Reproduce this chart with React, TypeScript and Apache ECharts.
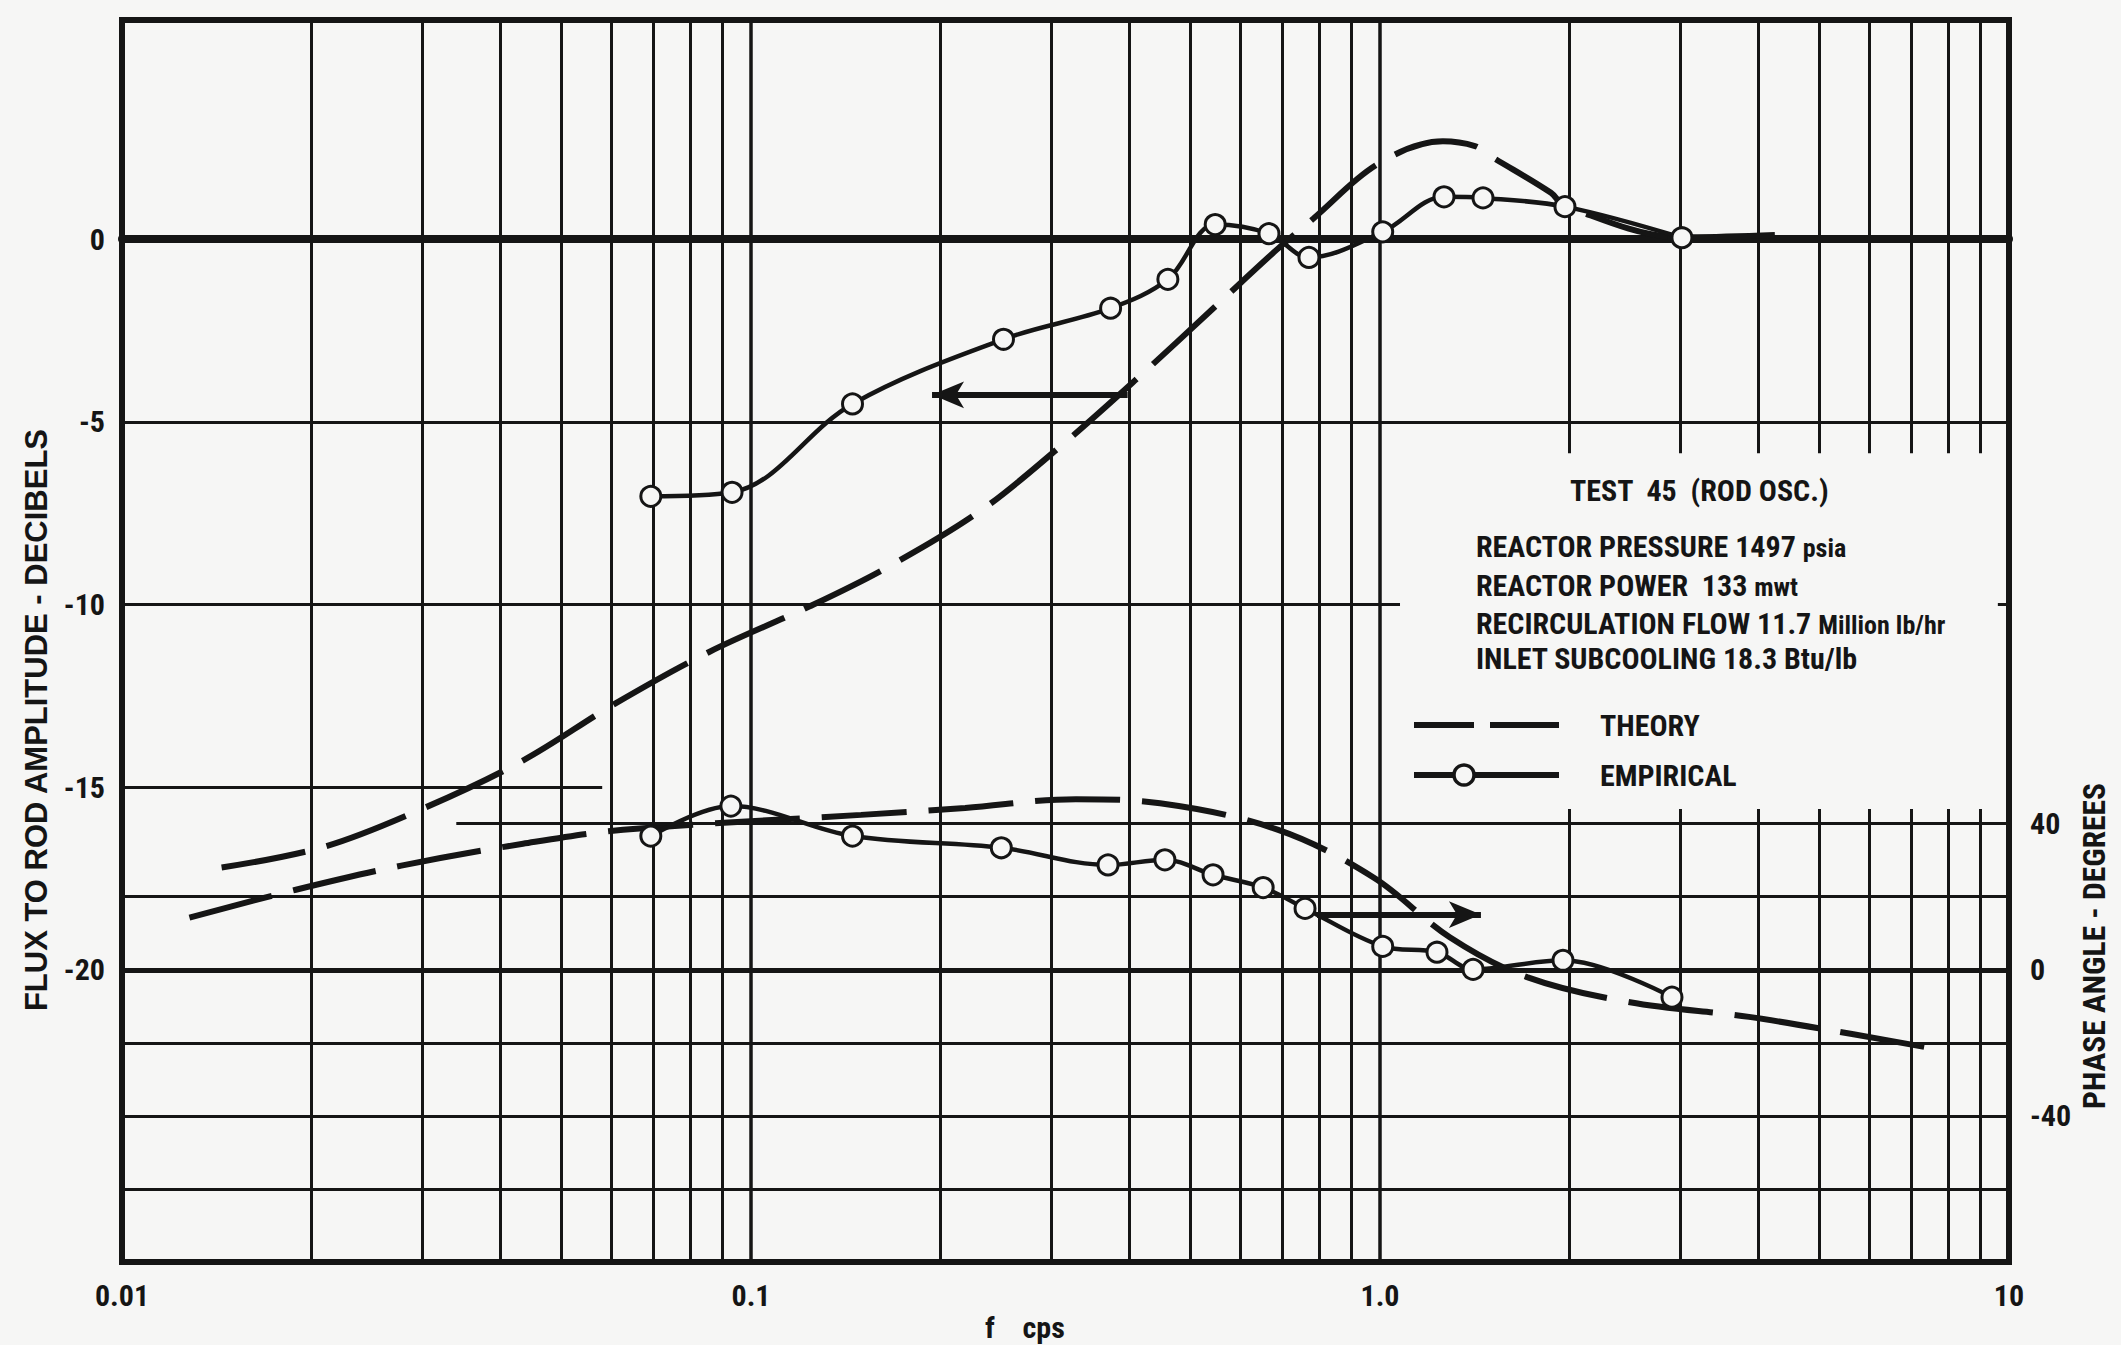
import React, { useEffect, useRef } from 'react';
import * as echarts from 'echarts';

const BG = '#f6f6f5';
const INK = '#151515';
const FONT = "'Liberation Sans Narrow', 'Roboto Condensed', 'DejaVu Sans Condensed', 'Liberation Sans', Arial, sans-serif";
const WIDE_FONT = "'Liberation Sans', Arial, 'DejaVu Sans', sans-serif";

// ---- Amplitude (dB, left axis) ----
const theoryAmpFreq = [0.0144, 0.0208, 0.0295, 0.0431, 0.061, 0.0858, 0.124, 0.164, 0.231, 0.309, 0.412, 0.545, 0.684, 0.783, 0.993, 1.259, 1.416, 1.49, 1.87, 1.97, 3.02, 4.31];
const theoryAmpDb = [-17.2, -16.65, -15.65, -14.3, -12.7, -11.3, -10.05, -9.0, -7.45, -5.7, -3.8, -1.87, -0.3, 0.56, 2.06, 2.68, 2.55, 2.3, 1.27, 0.9, 0.05, 0.12];

const empAmpFreq = [0.0693, 0.0933, 0.145, 0.252, 0.373, 0.46, 0.547, 0.666, 0.771, 1.01, 1.264, 1.458, 1.968, 3.02];
const empAmpDb = [-7.04, -6.93, -4.51, -2.74, -1.89, -1.1, 0.4, 0.15, -0.5, 0.2, 1.16, 1.13, 0.89, 0.04];

// ---- Phase (degrees, right axis) ----
const theoryPhaseFreq = [0.0128, 0.0189, 0.0278, 0.0434, 0.0626, 0.1496, 0.219, 0.3286, 0.447, 0.689, 0.978, 1.291, 1.713, 2.497, 3.861, 5.63, 7.77];
const theoryPhaseDeg = [14.3, 21.9, 28.5, 34.5, 38.3, 42.4, 44.3, 46.7, 45.6, 38.3, 25.2, 8.9, -2.0, -8.9, -12.9, -17.6, -21.9];

const empPhaseFreq = [0.0693, 0.0929, 0.145, 0.25, 0.3695, 0.455, 0.5427, 0.652, 0.76, 1.01, 1.232, 1.406, 1.954, 2.912];
const empPhaseDeg = [36.6, 44.8, 36.6, 33.4, 28.7, 30.1, 26.0, 22.5, 16.8, 6.4, 4.8, 0.1, 2.6, -7.5];

// ---- Axes / ticks ----
const freqTicks = [0.01, 0.1, 1, 10];
const freqTickLabels = ['0.01', '0.1', '1.0', '10'];
const dbTickLabels = [0, -5, -10, -15, -20];
const phaseTickLabels = [40, 0, -40];

// log-paper grid
const gridFreqs = [0.02, 0.03, 0.04, 0.05, 0.06, 0.07, 0.08, 0.09, 0.1, 0.2, 0.3, 0.4, 0.5, 0.6, 0.7, 0.8, 0.9, 1, 2, 3, 4, 5, 6, 7, 8, 9];
const dbFullLines = [0, -5, -10, -18, -20, -22, -24, -26];
const dbPartialLines = [
  { db: -15, from: 0.01, to: 0.058 },
  { db: -16, from: 0.034, to: 10 },
];
// blank panel behind the notes
const noteBox = { f0: 1.076, f1: 9.6, db0: -5.86, db1: -15.6 };

// direction arrows
const ampArrow = { from: 0.397, to: 0.194, db: -4.26 };
const phaseArrow = { from: 0.794, to: 1.447, deg: 15.1 };

// notes
const noteTitle = 'TEST  45  (ROD OSC.)';
const legendNames = ['THEORY', 'EMPIRICAL'];

const zip = (a: number[], b: number[]) => a.map((v, i) => [v, b[i]]);

function buildOption() {
  const gridLineData: any[] = [
    ...gridFreqs.map((f) => ({ xAxis: f, lineStyle: { width: f === 0.1 || f === 1 ? 3.5 : 3 } })),
    ...dbFullLines.map((d) => ({ yAxis: d, lineStyle: { width: d === 0 || d === -20 ? 5 : 3 } })),
    ...dbPartialLines.map((p) => [{ coord: [p.from, p.db] }, { coord: [p.to, p.db] }]),
  ];

  const textBase = { fontFamily: FONT, fontWeight: 'bold', fill: INK } as any;
  const richA = { fontFamily: FONT, fontWeight: 'bold', fontSize: 30, fill: INK, lineHeight: 36, verticalAlign: 'bottom' };
  const richB = (lh: number) => ({ fontFamily: FONT, fontWeight: 'bold', fontSize: 26, fill: INK, lineHeight: lh, verticalAlign: 'bottom' });

  return {
    animation: false,
    backgroundColor: BG,
    grid: { left: 122, right: 112, top: 20, bottom: 83, show: true, borderColor: INK, borderWidth: 6, backgroundColor: 'transparent', containLabel: false, outerBoundsMode: 'none' },
    xAxis: {
      type: 'log',
      logBase: 10,
      min: 0.01,
      max: 10,
      axisLine: { show: true, lineStyle: { color: INK, width: 8 } },
      axisTick: { show: false },
      splitLine: { show: false },
      axisLabel: {
        margin: 18,
        color: INK,
        fontFamily: FONT,
        fontWeight: 'bold',
        fontSize: 30,
        formatter: (v: number) => {
          const i = freqTicks.findIndex((t) => Math.abs(Math.log10(t) - Math.log10(v)) < 1e-6);
          return i >= 0 ? freqTickLabels[i] : '';
        },
      },
    },
    yAxis: [
      {
        type: 'value',
        min: -28,
        max: 6,
        interval: 1,
        position: 'left',
        axisLine: { show: false },
        axisTick: { show: false },
        splitLine: { show: false },
        axisLabel: {
          margin: 17,
          color: INK,
          fontFamily: FONT,
          fontWeight: 'bold',
          fontSize: 30,
          formatter: (v: number) => (dbTickLabels.includes(v) ? String(v) : ''),
        },
      },
      {
        type: 'value',
        min: -80,
        max: 260,
        interval: 20,
        position: 'right',
        axisLine: { show: false },
        axisTick: { show: false },
        splitLine: { show: false },
        axisLabel: {
          margin: 21,
          color: INK,
          fontFamily: FONT,
          fontWeight: 'bold',
          fontSize: 30,
          formatter: (v: number) => (phaseTickLabels.includes(v) ? String(v) : ''),
        },
      },
    ],
    legend: { show: false },
    graphic: [
      { type: 'text', z: 50, x: 1570, y: 490, style: { ...textBase, fontSize: 30, text: noteTitle, textVerticalAlign: 'middle' } },
      {
        type: 'text', z: 50, x: 1476, y: 543,
        style: { ...textBase, textVerticalAlign: 'middle', text: '{a|REACTOR PRESSURE 1497 }{b|psia}', rich: { a: richA, b: richB(18) } },
      },
      {
        type: 'text', z: 50, x: 1476, y: 582,
        style: { ...textBase, textVerticalAlign: 'middle', text: '{a|REACTOR POWER  133 }{b|mwt}', rich: { a: richA, b: richB(22) } },
      },
      {
        type: 'text', z: 50, x: 1476, y: 620,
        style: { ...textBase, textVerticalAlign: 'middle', text: '{a|RECIRCULATION FLOW 11.7 }{b|Million lb/hr}', rich: { a: richA, b: richB(30) } },
      },
      { type: 'text', z: 50, x: 1476, y: 658, style: { ...textBase, fontSize: 30, text: 'INLET SUBCOOLING 18.3 Btu/lb', textVerticalAlign: 'middle' } },
      // legend keys
      { type: 'line', z: 50, shape: { x1: 1414, y1: 725, x2: 1474, y2: 725 }, style: { stroke: INK, lineWidth: 6 } },
      { type: 'line', z: 50, shape: { x1: 1490, y1: 725, x2: 1559, y2: 725 }, style: { stroke: INK, lineWidth: 6 } },
      { type: 'text', z: 50, x: 1600, y: 725, style: { ...textBase, fontSize: 30, text: legendNames[0], textVerticalAlign: 'middle' } },
      { type: 'line', z: 50, shape: { x1: 1414, y1: 775, x2: 1559, y2: 775 }, style: { stroke: INK, lineWidth: 6 } },
      { type: 'circle', z: 51, shape: { cx: 1464, cy: 775, r: 10 }, style: { fill: BG, stroke: INK, lineWidth: 3.5 } },
      { type: 'text', z: 50, x: 1600, y: 775, style: { ...textBase, fontSize: 30, text: legendNames[1], textVerticalAlign: 'middle' } },
      // axis titles
      { type: 'text', z: 50, x: 36, y: 720, rotation: Math.PI / 2, style: { fontFamily: WIDE_FONT, fontWeight: 'bold', fill: INK, fontSize: 31, text: 'FLUX TO ROD AMPLITUDE - DECIBELS', textAlign: 'center', textVerticalAlign: 'middle' } },
      { type: 'text', z: 50, x: 2094, y: 946, rotation: Math.PI / 2, style: { ...textBase, fontSize: 31.5, text: 'PHASE ANGLE - DEGREES', textAlign: 'center', textVerticalAlign: 'middle' } },
      { type: 'text', z: 50, x: 985, y: 1327, style: { ...textBase, fontSize: 30, text: 'f    cps', textAlign: 'left', textVerticalAlign: 'middle' } },
    ],
    series: [
      {
        type: 'line',
        data: [],
        silent: true,
        z: 1,
        markLine: {
          z: 1,
          silent: true,
          symbol: 'none',
          label: { show: false },
          emphasis: { disabled: true },
          lineStyle: { color: INK, width: 3, type: 'solid' },
          data: gridLineData,
        },
      },
      {
        type: 'line',
        data: [],
        silent: true,
        z: 1,
        markArea: {
          z: 2,
          silent: true,
          itemStyle: { color: BG, borderWidth: 0 },
          label: { show: false },
          emphasis: { disabled: true },
          data: [[{ coord: [noteBox.f0, noteBox.db0] }, { coord: [noteBox.f1, noteBox.db1] }]],
        },
      },
      {
        name: 'THEORY',
        type: 'line',
        yAxisIndex: 0,
        data: zip(theoryAmpFreq, theoryAmpDb),
        smooth: 0.35,
        symbol: 'none',
        z: 3,
        lineStyle: { color: INK, width: 6, type: [85, 22], cap: 'butt' },
        itemStyle: { color: INK },
      },
      {
        name: 'THEORY',
        type: 'line',
        yAxisIndex: 1,
        data: zip(theoryPhaseFreq, theoryPhaseDeg),
        smooth: 0.35,
        symbol: 'none',
        z: 3,
        lineStyle: { color: INK, width: 6, type: [85, 22], cap: 'butt' },
        itemStyle: { color: INK },
      },
      {
        name: 'EMPIRICAL',
        type: 'line',
        yAxisIndex: 0,
        data: zip(empAmpFreq, empAmpDb),
        smooth: 0.35,
        symbol: 'circle',
        symbolSize: 20,
        showSymbol: true,
        z: 4,
        lineStyle: { color: INK, width: 4.5 },
        itemStyle: { color: BG, borderColor: INK, borderWidth: 3 },
        markLine: {
          z: 5,
          silent: true,
          symbol: ['none', 'arrow'],
          symbolSize: [20, 32],
          label: { show: false },
          lineStyle: { color: INK, width: 6, type: 'solid' },
          data: [[{ coord: [ampArrow.from, ampArrow.db] }, { coord: [ampArrow.to, ampArrow.db] }]],
        },
      },
      {
        name: 'EMPIRICAL',
        type: 'line',
        yAxisIndex: 1,
        data: zip(empPhaseFreq, empPhaseDeg),
        smooth: 0.35,
        symbol: 'circle',
        symbolSize: 20,
        showSymbol: true,
        z: 4,
        lineStyle: { color: INK, width: 4.5 },
        itemStyle: { color: BG, borderColor: INK, borderWidth: 3 },
        markLine: {
          z: 5,
          silent: true,
          symbol: ['none', 'arrow'],
          symbolSize: [20, 32],
          label: { show: false },
          lineStyle: { color: INK, width: 6, type: 'solid' },
          data: [[{ coord: [phaseArrow.from, phaseArrow.deg] }, { coord: [phaseArrow.to, phaseArrow.deg] }]],
        },
      },
    ],
  };
}

export default function App() {
  const ref = useRef<HTMLDivElement>(null);
  useEffect(() => {
    document.body.style.margin = '0';
    const chart = echarts.init(ref.current as HTMLDivElement, null, { renderer: 'svg' });
    chart.setOption(buildOption() as any);
    return () => chart.dispose();
  }, []);
  return <div ref={ref} style={{ width: 2121, height: 1345, background: BG }} />;
}
